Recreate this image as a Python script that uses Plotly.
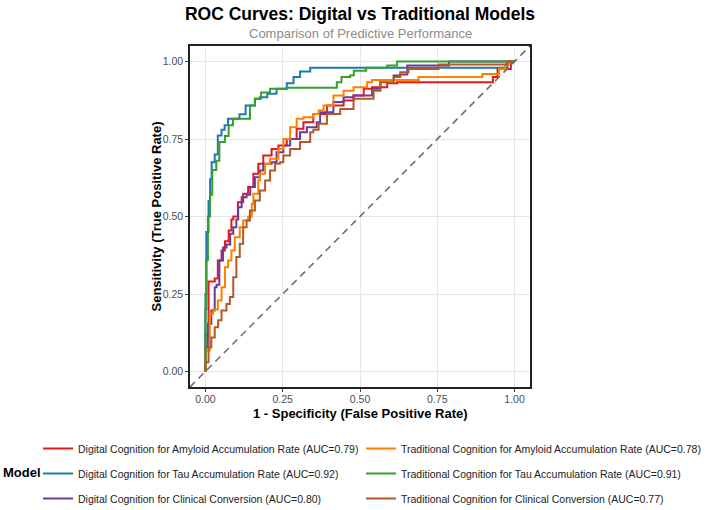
import plotly.graph_objects as go

# ---- data ----
names = [
    "Digital Cognition for Amyloid Accumulation Rate (AUC=0.79)",
    "Digital Cognition for Tau Accumulation Rate (AUC=0.92)",
    "Digital Cognition for Clinical Conversion (AUC=0.80)",
    "Traditional Cognition for Amyloid Accumulation Rate (AUC=0.78)",
    "Traditional Cognition for Tau Accumulation Rate (AUC=0.91)",
    "Traditional Cognition for Clinical Conversion (AUC=0.77)",
]
colors = ["#E31A1C", "#1F78B4", "#6A3D9A", "#FF7F00", "#33A02C", "#B15928"]

fpr_dig_amy = [0, 0.01, 0.03, 0.04, 0.052, 0.063, 0.075, 0.084, 0.09, 0.105, 0.122, 0.138, 0.155, 0.171, 0.187,
               0.214, 0.236, 0.263, 0.295, 0.317, 0.349, 0.393, 0.447, 0.479, 0.512, 0.539, 0.588, 0.62, 0.93,
               0.945, 0.988, 1.0]
tpr_dig_amy = [0, 0.12, 0.29, 0.3, 0.358, 0.39, 0.42, 0.455, 0.49, 0.5, 0.546, 0.573, 0.595, 0.638, 0.67,
               0.697, 0.718, 0.729, 0.75, 0.783, 0.804, 0.831, 0.858, 0.874, 0.89, 0.912, 0.917, 0.93, 0.933,
               0.95, 0.976, 1.0]

fpr_dig_tau = [0, 0.003, 0.01, 0.015, 0.02, 0.03, 0.04, 0.052, 0.062, 0.073, 0.09, 0.11, 0.13, 0.16, 0.176,
               0.2, 0.23, 0.263, 0.285, 0.306, 0.339, 0.588, 0.977, 1.0]
tpr_dig_tau = [0, 0.25, 0.45, 0.55, 0.62, 0.675, 0.7, 0.761, 0.78, 0.794, 0.815, 0.815, 0.83, 0.858, 0.88,
               0.885, 0.896, 0.912, 0.93, 0.95, 0.968, 0.98, 0.98, 1.0]

fpr_dig_cc = [0, 0.008, 0.019, 0.03, 0.036, 0.045, 0.057, 0.068, 0.08, 0.09, 0.10, 0.106, 0.117, 0.133, 0.145,
              0.16, 0.176, 0.187, 0.214, 0.23, 0.252, 0.274, 0.306, 0.328, 0.36, 0.371, 0.414, 0.447, 0.479,
              0.539, 0.566, 0.609, 0.63, 0.653, 0.788, 0.83, 1.0]
tpr_dig_cc = [0, 0.078, 0.154, 0.197, 0.272, 0.28, 0.358, 0.40, 0.41, 0.444, 0.465, 0.49, 0.53, 0.562, 0.57,
              0.595, 0.627, 0.648, 0.67, 0.675, 0.707, 0.729, 0.75, 0.772, 0.788, 0.804, 0.836, 0.869, 0.885,
              0.89, 0.912, 0.939, 0.955, 0.958, 0.987, 1.0, 1.0]

fpr_trad_amy = [0, 0.014, 0.025, 0.04, 0.052, 0.063, 0.073, 0.084, 0.095, 0.111, 0.122, 0.138, 0.15, 0.155,
                0.171, 0.176, 0.193, 0.209, 0.236, 0.252, 0.274, 0.295, 0.317, 0.349, 0.366, 0.382, 0.414,
                0.447, 0.479, 0.523, 0.539, 0.69, 0.896, 0.95, 0.97, 0.98, 1.0]
tpr_trad_amy = [0, 0.068, 0.186, 0.2, 0.229, 0.272, 0.336, 0.358, 0.39, 0.433, 0.465, 0.487, 0.5, 0.541,
                0.573, 0.616, 0.638, 0.67, 0.686, 0.718, 0.75, 0.788, 0.815, 0.82, 0.831, 0.842, 0.858,
                0.89, 0.906, 0.917, 0.933, 0.94, 0.95, 0.96, 0.976, 0.99, 1.0]

fpr_trad_tau = [0, 0.003, 0.008, 0.015, 0.022, 0.035, 0.045, 0.063, 0.075, 0.089, 0.11, 0.144, 0.16, 0.18,
                0.209, 0.263, 0.425, 0.44, 0.468, 0.48, 0.52, 0.588, 0.62, 0.82, 1.0]
tpr_trad_tau = [0, 0.2, 0.36, 0.5, 0.57, 0.65, 0.68, 0.74, 0.76, 0.794, 0.815, 0.815, 0.858, 0.88,
                0.9, 0.912, 0.915, 0.933, 0.95, 0.955, 0.97, 0.98, 0.987, 1.0, 1.0]

fpr_trad_cc = [0, 0.01, 0.019, 0.03, 0.041, 0.052, 0.068, 0.079, 0.09, 0.10, 0.111, 0.122, 0.133, 0.144, 0.16,
               0.176, 0.193, 0.209, 0.225, 0.241, 0.252, 0.274, 0.306, 0.339, 0.349, 0.366, 0.393, 0.436,
               0.479, 0.544, 0.566, 0.609, 0.63, 0.657, 0.754, 0.868, 0.977, 1.0]
tpr_trad_cc = [0, 0.03, 0.078, 0.11, 0.143, 0.165, 0.197, 0.218, 0.24, 0.304, 0.369, 0.412, 0.465, 0.487, 0.519,
               0.552, 0.584, 0.616, 0.648, 0.67, 0.675, 0.697, 0.718, 0.74, 0.772, 0.78, 0.799, 0.831,
               0.847, 0.88, 0.906, 0.933, 0.95, 0.965, 0.976, 0.99, 0.99, 1.0]

series_fpr = [fpr_dig_amy, fpr_dig_tau, fpr_dig_cc, fpr_trad_amy, fpr_trad_tau, fpr_trad_cc]
series_tpr = [tpr_dig_amy, tpr_dig_tau, tpr_dig_cc, tpr_trad_amy, tpr_trad_tau, tpr_trad_cc]
legend_ids = ["legend", "legend", "legend", "legend2", "legend2", "legend2"]

axis_range = [-0.05, 1.05]
tick_vals = [0, 0.25, 0.5, 0.75, 1.0]
tick_text = ["0.00", "0.25", "0.50", "0.75", "1.00"]

FONT = "Liberation Sans, Arial, sans-serif"

# plot-area geometry in pixels (used only to place texts)
L, R, T, B = 190, 190, 46, 123
PW, PH = 720 - L - R, 510 - T - B


def px_x(p):
    return (p - L) / PW


def px_y(p):
    return (510 - B - p) / PH


fig = go.Figure()

for i in range(6):
    fig.add_trace(go.Scatter(
        x=series_fpr[i], y=series_tpr[i], mode="lines", name=names[i],
        line=dict(color=colors[i], width=2, shape="vh"),
        legend=legend_ids[i], legendgroup=names[i],
    ))

fig.add_trace(go.Scatter(
    x=axis_range, y=axis_range, mode="lines", showlegend=False,
    line=dict(color="#6e6e6e", width=1.6, dash="7px,5px"),
))

axis_common = dict(
    range=axis_range, tickvals=tick_vals, ticktext=tick_text, automargin=False,
    showgrid=True, gridcolor="#e6e6e6", gridwidth=1, zeroline=False,
    showline=True, mirror=True, linecolor="#222222", linewidth=1.6,
    ticks="outside", ticklen=3, tickcolor="#444444", tickwidth=1,
    tickfont=dict(family=FONT, size=10.5, color="#4d4d4d"),
)

legend_common = dict(
    xref="container", yref="container", y=1 - 434 / 510,
    xanchor="left", yanchor="top", orientation="v",
    traceorder="grouped", tracegroupgap=6,
    font=dict(family=FONT, size=10.5, color="#222222"), bgcolor="rgba(0,0,0,0)",
)

fig.update_layout(
    width=720, height=510,
    margin=dict(l=L, r=R, t=T, b=B, autoexpand=False),
    paper_bgcolor="white", plot_bgcolor="white",
    font=dict(family=FONT),
    title=dict(text="<b>ROC Curves: Digital vs Traditional Models</b>",
               x=0.5, xref="container", xanchor="center",
               y=1 - 14 / 510, yref="container", yanchor="middle",
               font=dict(family=FONT, size=17.5, color="black")),
    xaxis=dict(**axis_common, ticklabelstandoff=-1),
    yaxis=dict(**axis_common),
    legend=dict(**legend_common, x=38 / 720),
    legend2=dict(**legend_common, x=361 / 720),
    annotations=[
        dict(text="Comparison of Predictive Performance", xref="paper", yref="paper",
             x=0.5, y=px_y(33), xanchor="center", yanchor="middle", showarrow=False,
             font=dict(family=FONT, size=13, color="#8c8c8c")),
        dict(text="<b>1 - Specificity (False Positive Rate)</b>", xref="paper", yref="paper",
             x=0.5, y=px_y(413), xanchor="center", yanchor="middle", showarrow=False,
             font=dict(family=FONT, size=13, color="black")),
        dict(text="<b>Sensitivity (True Positive Rate)</b>", xref="paper", yref="paper",
             x=px_x(156), y=0.5, xanchor="center", yanchor="middle", showarrow=False,
             textangle=-90, font=dict(family=FONT, size=13, color="black")),
        dict(text="<b>Model</b>", xref="paper", yref="paper",
             x=px_x(1), y=px_y(472), xanchor="left", yanchor="middle", showarrow=False,
             font=dict(family=FONT, size=13, color="black")),
    ],
)

fig.write_html("out.html")
